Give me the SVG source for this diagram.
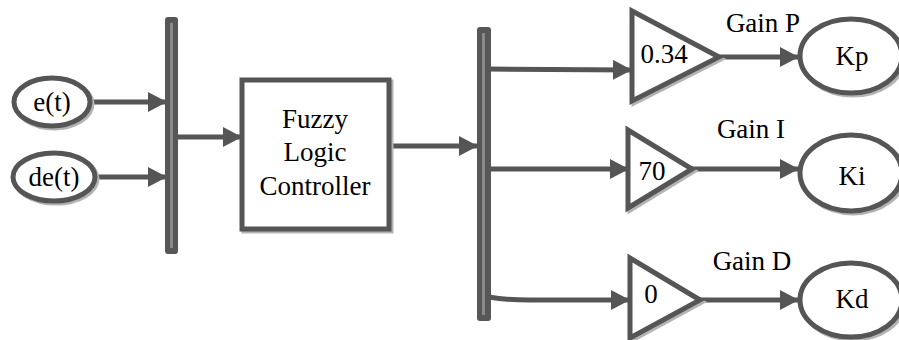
<svg xmlns="http://www.w3.org/2000/svg" width="899" height="340" viewBox="0 0 899 340">
<style>
.sh{fill:none;stroke:#b4b4b4;stroke-width:5}
.sp{fill:#fff;stroke:#555;stroke-width:5;stroke-linejoin:miter}
.ln{fill:none;stroke:#555;stroke-width:5}
.bus{fill:#575757}
.bi{stroke:#8a8a8a;stroke-width:3}
.t{font-family:'Liberation Serif','Times New Roman',serif;font-size:27px;text-anchor:middle;fill:#000}
</style>
<defs>
<marker id="ah" markerUnits="userSpaceOnUse" markerWidth="20" markerHeight="20" refX="19" refY="10" orient="auto">
<path d="M0,0 L19,10 L0,20 Z" fill="#555"/>
</marker>
</defs>
<rect width="899" height="340" fill="#fff"/>
<g id="connectors">
<line class="ln" x1="93" y1="102" x2="167" y2="102" marker-end="url(#ah)"/>
<line class="ln" x1="97" y1="177" x2="167" y2="177" marker-end="url(#ah)"/>
<line class="ln" x1="171" y1="137" x2="242" y2="137" marker-end="url(#ah)"/>
<circle cx="389" cy="146" r="3" fill="#555"/>
<line class="ln" x1="389" y1="146" x2="478" y2="146" marker-end="url(#ah)"/>
<line class="ln" x1="489" y1="69" x2="632" y2="70" marker-end="url(#ah)"/>
<line class="ln" x1="489" y1="169" x2="629" y2="169" marker-end="url(#ah)"/>
<path class="ln" d="M489,297 Q505,300 530,300 L630,300" marker-end="url(#ah)"/>
<line class="ln" x1="719" y1="57" x2="799" y2="57" marker-end="url(#ah)"/>
<line class="ln" x1="692" y1="169" x2="799" y2="169" marker-end="url(#ah)"/>
<line class="ln" x1="700" y1="300" x2="799" y2="300" marker-end="url(#ah)"/>
</g>
<g id="et">
<ellipse class="sh" cx="54" cy="104" rx="38" ry="24"/>
<ellipse class="sp" cx="52" cy="102" rx="38" ry="24"/>
<text class="t" x="52" y="111">e(t)</text>
</g>
<g id="det">
<ellipse class="sh" cx="56" cy="179" rx="41" ry="24"/>
<ellipse class="sp" cx="54" cy="177" rx="41" ry="24"/>
<text class="t" x="54" y="186">de(t)</text>
</g>
<g id="mux">
<rect class="bus" x="165" y="17" width="13" height="237" rx="3"/>
<line class="bi" x1="171.5" y1="23" x2="171.5" y2="248"/>
</g>
<g id="flc">
<rect class="sh" x="244" y="82" width="147" height="149"/>
<rect class="sp" x="242" y="80" width="147" height="149"/>
<text class="t" x="315" y="128">Fuzzy</text>
<text class="t" x="315" y="161">Logic</text>
<text class="t" x="315" y="195">Controller</text>
</g>
<g id="demux">
<rect class="bus" x="477" y="27" width="14" height="294" rx="3"/>
<line class="bi" x1="483.5" y1="33" x2="483.5" y2="315"/>
</g>
<g id="gainP">
<polygon class="sh" points="634,13 634,103 721,59"/>
<polygon class="sp" points="632,11 632,101 719,57"/>
<text class="t" x="664" y="63">0.34</text>
<text class="t" x="763" y="32">Gain P</text>
</g>
<g id="gainI">
<polygon class="sh" points="630,132 630,210 694,171"/>
<polygon class="sp" points="628,130 628,208 692,169"/>
<text class="t" x="652" y="180">70</text>
<text class="t" x="751" y="138">Gain I</text>
</g>
<g id="gainD">
<polygon class="sh" points="632,260 632,340 702,302"/>
<polygon class="sp" points="630,258 630,338 700,300"/>
<text class="t" x="651" y="303">0</text>
<text class="t" x="752" y="270">Gain D</text>
</g>
<g id="kp">
<ellipse class="sh" cx="853" cy="58" rx="51" ry="37"/>
<ellipse class="sp" cx="851" cy="56" rx="51" ry="37"/>
<text class="t" x="852" y="65">Kp</text>
</g>
<g id="ki">
<ellipse class="sh" cx="853" cy="175" rx="51" ry="38"/>
<ellipse class="sp" cx="851" cy="173" rx="51" ry="38"/>
<text class="t" x="852" y="185">Ki</text>
</g>
<g id="kd">
<ellipse class="sh" cx="853" cy="302" rx="51" ry="37"/>
<ellipse class="sp" cx="851" cy="300" rx="51" ry="37"/>
<text class="t" x="852" y="308">Kd</text>
</g>
</svg>
